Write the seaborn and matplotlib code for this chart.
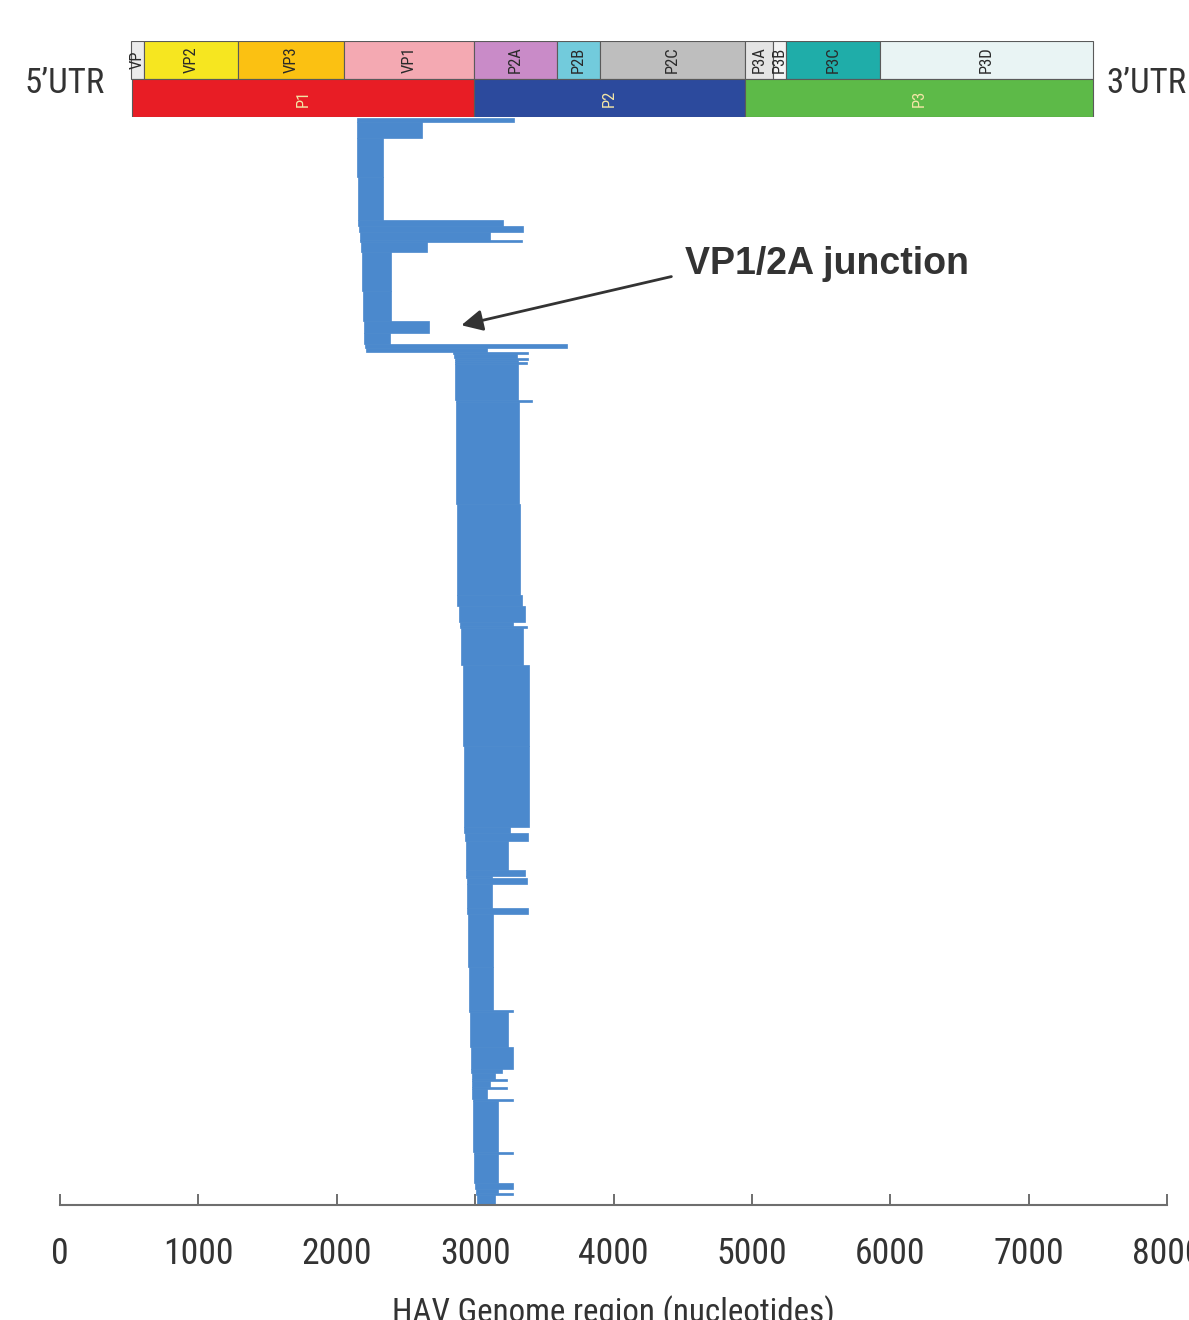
import os
import numpy as np
import pandas as pd
import matplotlib
matplotlib.use("Agg")
import matplotlib.pyplot as plt
import seaborn as sns
from matplotlib import font_manager
from matplotlib.font_manager import FontProperties
from matplotlib.textpath import TextPath

# Genome map of HAV (nucleotide positions)
gene_names = ["VP", "VP2", "VP3", "VP1", "P2A", "P2B", "P2C", "P3A", "P3B", "P3C", "P3D"]
gene_start = [513, 607, 1286, 2052, 2991, 3591, 3902, 4949, 5152, 5246, 5925]
gene_end = [607, 1286, 2052, 2991, 3591, 3902, 4949, 5152, 5246, 5925, 7464]
poly_names = ["P1", "P2", "P3"]
poly_start = [520, 2991, 4949]
poly_end = [2991, 4949, 7464]

# Sequence coverage blocks, top to bottom: start nt, end nt, number of sequences
seq_start = [2146, 2146, 2146, 2153, 2153, 2160, 2168, 2168, 2175, 2182,
             2189, 2197, 2197, 2204, 2211, 2840,
             2847, 2854, 2854, 2854, 2854, 2862, 2862, 2869, 2869, 2883,
             2891, 2891, 2898, 2912, 2919, 2919, 2927, 2934, 2934, 2934,
             2941, 2941, 2941, 2948, 2956, 2956, 2963, 2970, 2970, 2977,
             2977, 2977, 2977, 2977, 2984, 2984, 2992, 2992, 2999, 3006,
             3006, 3013]
seq_end = [3281, 2616, 2334, 2334, 3201, 3346, 3107, 3339, 2652, 2392,
           2392, 2667, 2385, 3664, 3086, 3382,
           3303, 3382, 3310, 3375, 3310, 3411, 3317, 3324, 3339, 3360,
           3274, 3375, 3346, 3389, 3389, 3252, 3382, 3237, 3360, 3122,
           3375, 3122, 3382, 3129, 3129, 3274, 3237, 3274, 3194, 3144,
           3230, 3107, 3230, 3086, 3274, 3165, 3274, 3165, 3274, 3165,
           3274, 3144]
seq_count = [2, 8, 19, 21, 3, 3, 4, 1, 5, 19,
             15, 6, 5, 2, 2, 1,
             2, 1, 1, 1, 18, 1, 50, 45, 5, 8,
             2, 1, 18, 40, 40, 3, 4, 14, 3, 1,
             3, 12, 3, 26, 21, 1, 17, 11, 2, 3,
             1, 3, 1, 5, 1, 25, 1, 14, 3, 2,
             1, 5]
x_ticks = [0, 1000, 2000, 3000, 4000, 5000, 6000, 7000, 8000]

gene_colors = {"VP": "#ececec", "VP2": "#f6e620", "VP3": "#fbc112", "VP1": "#f4a9b2",
               "P2A": "#c98bc8", "P2B": "#72cbdc", "P2C": "#bebebe", "P3A": "#e4e4e4",
               "P3B": "#f4f4f4", "P3C": "#1fada9", "P3D": "#e9f4f4"}
poly_colors = {"P1": "#e81d25", "P2": "#2c4a9d", "P3": "#5dba48"}
bar_blue = "#4b89cd"
txt = "#333333"

sns.set_theme(style="white")
plt.rcParams["font.family"] = ["Liberation Sans", "DejaVu Sans"]


# the original uses a condensed face; take one if the system has it
def find_font(patterns):
    for pat in patterns:
        for f in font_manager.fontManager.ttflist:
            if pat in os.path.basename(f.fname):
                return f.fname
    return None


narrow_path = find_font(["LiberationSansNarrow-Regular", "RobotoCondensed-Regular",
                         "Roboto-Condensed", "NotoSans-Condensed.", "NotoSans-CondensedRegular",
                         "OpenSans-CondensedRegular", "OpenSans_Condensed-Regular",
                         "DejaVuSansCondensed.ttf", "Roboto-Regular"])


def fp_fit(text, px, cap):
    # font size that makes `text` about `px` pixels wide (dpi 100), capped
    base = FontProperties(fname=narrow_path) if narrow_path else FontProperties(family="DejaVu Sans")
    w = TextPath((0, 0), text, size=10, prop=base).get_extents().width
    base.set_size(min(cap, 10 * px / (w * 100 / 72)))
    return base


df = pd.DataFrame({"start": seq_start, "end": seq_end, "n": seq_count})
df["row"] = df["n"].cumsum() - df["n"]
total = df["n"].sum()

fig = plt.figure(figsize=(11.89, 13.2), dpi=100)

# coverage plot
ax = fig.add_axes([0.0505, 0.0871, 0.9310, 0.8235])
ax.barh(df["row"], df["end"] - df["start"], left=df["start"], height=df["n"],
        align="edge", color=bar_blue, edgecolor=bar_blue, linewidth=0.5)
ax.set_xlim(0, 8000)
ax.set_ylim(total, 0)
ax.set_yticks([])
ax.set_xticks(x_ticks, labels=[str(t) for t in x_ticks], fontproperties=fp_fit("3000", 67, 28))
sns.despine(ax=ax, left=True)
ax.spines["bottom"].set_color("#6e6e6e")
ax.spines["bottom"].set_linewidth(1.5)
ax.tick_params(axis="x", direction="in", length=8, width=1.4, color="#6e6e6e",
               labelcolor=txt, pad=22, bottom=True)
ax.set_xlabel("HAV Genome region (nucleotides)", color=txt, labelpad=17,
              fontproperties=fp_fit("HAV Genome region (nucleotides)", 437, 28))

ax.annotate("VP1/2A junction", xy=(2900, 102), xytext=(4520, 72),
            fontsize=27, fontweight="bold", color=txt, ha="left", va="center",
            arrowprops=dict(arrowstyle="-|>", color=txt, lw=2,
                            mutation_scale=32, shrinkA=8, shrinkB=0,
                            relpos=(0, 0.25)))

# genome map header
gx = fig.add_axes([0.0505, 0.9114, 0.9310, 0.0576])
gx.barh([1.5] * len(gene_names), np.subtract(gene_end, gene_start), left=gene_start,
        height=1, color=[gene_colors[g] for g in gene_names], edgecolor="#5a5a5a", linewidth=0.8)
gx.barh([0.5] * len(poly_names), np.subtract(poly_end, poly_start), left=poly_start,
        height=1, color=[poly_colors[p] for p in poly_names], edgecolor="#5a5a5a", linewidth=0.8)
fp_gene = fp_fit("VP2", 27, 12)
for name, s, e in zip(gene_names, gene_start, gene_end):
    gx.text((s + e) / 2, 1.5, name, rotation=90, ha="center", va="center",
            fontproperties=fp_gene, color="#2a2a2a")
for name, s, e in zip(poly_names, poly_start, poly_end):
    gx.text((s + e) / 2, 0.5, name, rotation=90, ha="center", va="center",
            fontproperties=fp_gene, color="#f3e6a6")
fp_utr = fp_fit("5\u2019UTR", 77, 28)
gx.text(poly_start[0] - 200, 0.88, "5\u2019UTR", ha="right", va="center",
        fontproperties=fp_utr, color=txt)
gx.text(poly_end[-1] + 100, 0.88, "3\u2019UTR", ha="left", va="center",
        fontproperties=fp_utr, color=txt, clip_on=False)
gx.set_xlim(0, 8000)
gx.set_ylim(0, 2)
gx.axis("off")

fig.savefig("out.png", dpi=100)
